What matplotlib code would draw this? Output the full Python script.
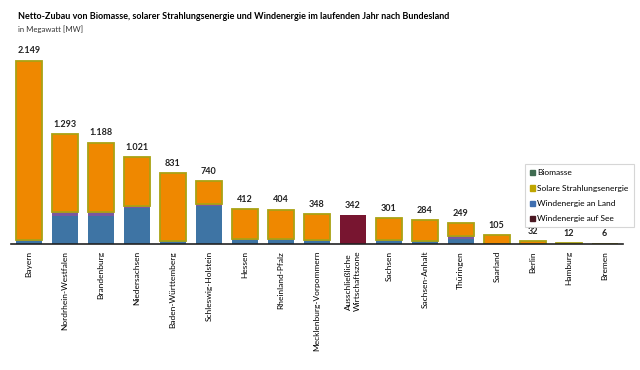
import numpy as np
import matplotlib
matplotlib.use("Agg")
import matplotlib.pyplot as plt
from matplotlib.patches import Patch

plt.rcParams['font.family'] = ['Lato', 'DejaVu Sans']

# Daten (MW)
laender = ["Bayern", "Nordrhein-Westfalen", "Brandenburg", "Niedersachsen",
           "Baden-Württemberg", "Schleswig-Holstein", "Hessen", "Rheinland-Pfalz",
           "Mecklenburg-Vorpommern", "Ausschließliche\nWirtschaftszone", "Sachsen",
           "Sachsen-Anhalt", "Thüringen", "Saarland", "Berlin", "Hamburg", "Bremen"]
wind_land = [35, 330, 330, 420, 30, 440, 50, 50, 45, 0, 45, 35, 60, 5, 0, 2, 2]
biomasse = [15, 45, 45, 20, 10, 25, 5, 5, 5, 0, 5, 5, 35, 0, 0, 0, 0]
solar = [2099, 918, 813, 581, 791, 275, 357, 349, 298, 0, 251, 244, 154, 100, 32, 10, 4]
wind_see = [0, 0, 0, 0, 0, 0, 0, 0, 0, 342, 0, 0, 0, 0, 0, 0, 0]
summe = ["2.149", "1.293", "1.188", "1.021", "831", "740", "412", "404", "348",
         "342", "301", "284", "249", "105", "32", "12", "6"]

c_wind = '#3e74a4'
c_bio = '#7a58a0'
c_solar = '#ef8800'
c_olive = '#aaa214'
c_see = '#781530'

fig = plt.figure(figsize=(6.4, 3.7), dpi=100)
ax = fig.add_axes([0.0172, 0.3405, 0.9558, 0.5375])

x = np.arange(len(laender))
w = 0.72
wl = np.array(wind_land)
bi = np.array(biomasse)
so = np.array(solar)
ws = np.array(wind_see)

ax.bar(x, wl, w, color=c_wind)
ax.bar(x, bi, w, bottom=wl, color=c_bio)
ax.bar(x, so, w, bottom=wl + bi, color=c_solar, edgecolor=c_olive, linewidth=1.3)
ax.bar(x, ws, w, bottom=wl + bi + so, color=c_see)

total = wl + bi + so + ws
for xi, t, s in zip(x, total, summe):
    ax.text(xi, t + 60, s, ha='center', va='bottom', fontsize=6.5,
            fontweight='bold', color='#222222')

ax.set_xlim(-0.5, len(laender) - 0.5)
ax.set_ylim(0, 2330)
ax.set_yticks([])
ax.set_xticks(x)
ax.set_xticklabels(laender, rotation=90, fontsize=6, va='top', ha='center')
ax.tick_params(axis='x', length=0, pad=5)
for s in ['top', 'right', 'left']:
    ax.spines[s].set_visible(False)
ax.spines['bottom'].set_color('#222222')
ax.spines['bottom'].set_linewidth(1.2)

handles = [Patch(color='#3f6b50', label='Biomasse'),
           Patch(color='#bfa500', label='Solare Strahlungsenergie'),
           Patch(color='#3f6fb0', label='Windenergie an Land'),
           Patch(color='#4a1822', label='Windenergie auf See')]
leg = ax.legend(handles=handles, loc='upper left', bbox_to_anchor=(0.84, 0.40),
                fontsize=6, frameon=True, fancybox=False, handlelength=0.6,
                handleheight=0.6, handletextpad=0.3, labelspacing=1.0,
                borderpad=0.6, borderaxespad=0)
leg.get_frame().set_edgecolor('#cccccc')
leg.get_frame().set_linewidth(0.8)

fig.text(0.028, 0.955, "Netto-Zubau von Biomasse, solarer Strahlungsenergie und Windenergie im laufenden Jahr nach Bundesland",
         fontsize=6.5, fontweight='bold', va='center')
fig.text(0.028, 0.922, "in Megawatt [MW]", fontsize=5.6, va='center', color='#333333')

fig.savefig("out.png", dpi=100)
